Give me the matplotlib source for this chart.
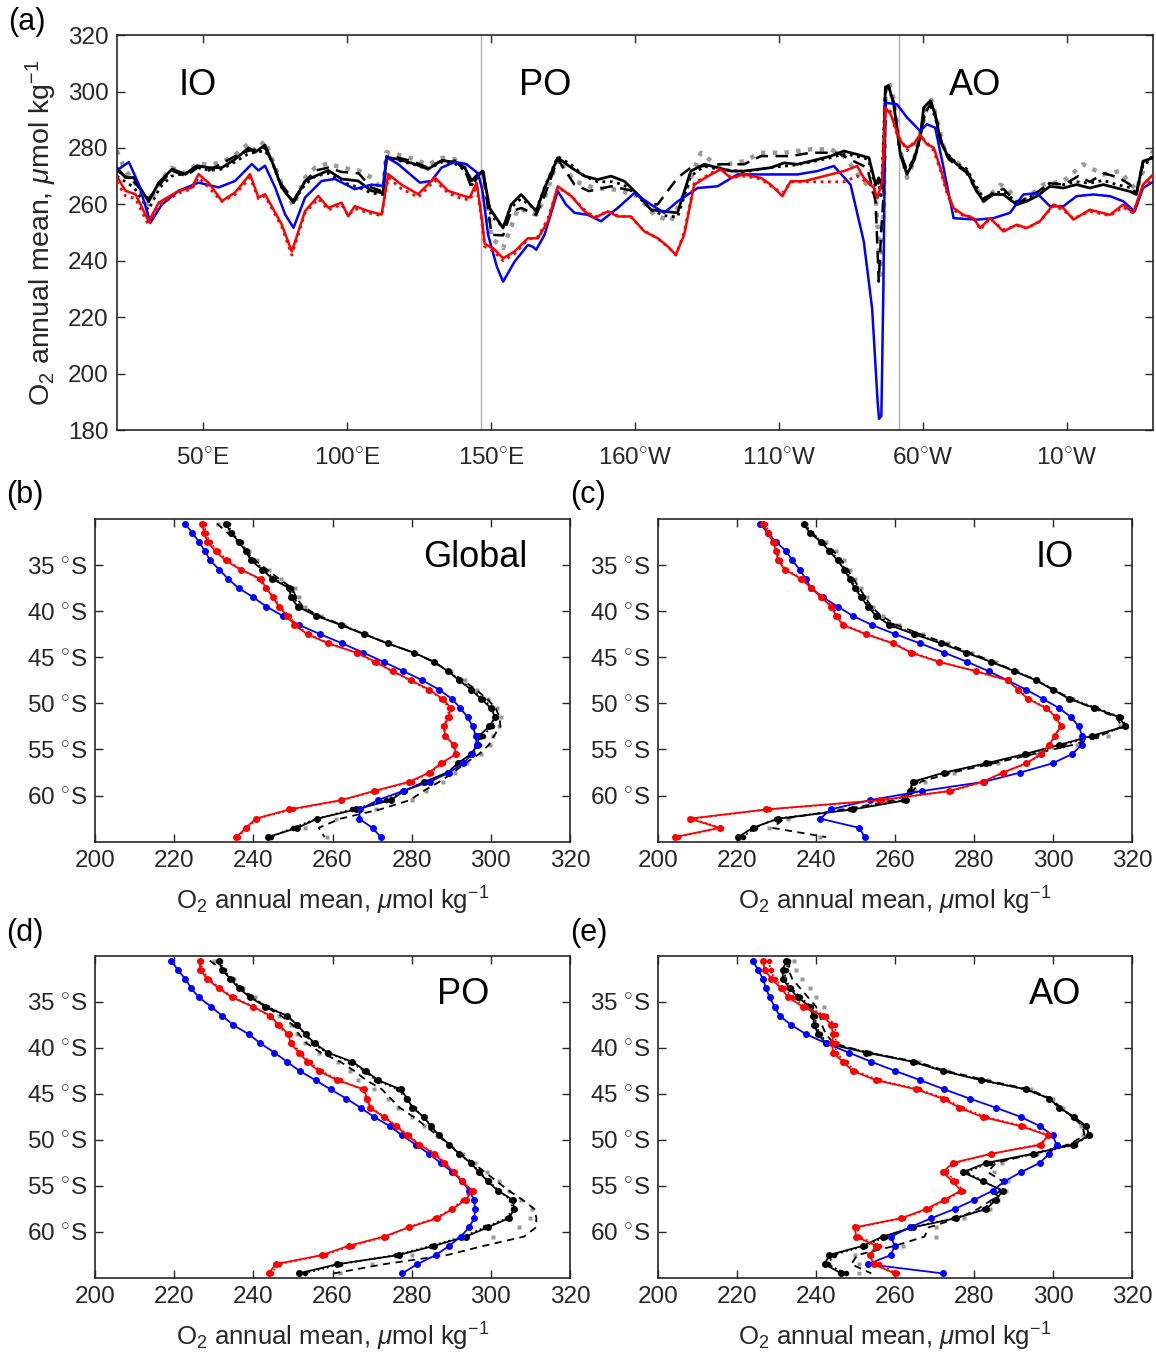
import matplotlib
matplotlib.use("Agg")
import matplotlib.pyplot as plt

plt.rcParams["font.family"] = ["Liberation Sans", "DejaVu Sans"]
plt.rcParams["mathtext.fontset"] = "custom"
plt.rcParams["mathtext.rm"] = "Liberation Sans"
plt.rcParams["mathtext.it"] = "Liberation Sans:italic"
plt.rcParams["mathtext.sf"] = "Liberation Sans"

INK = "#262626"
GRAY = "#999999"

# ---------------- panel (a): O2 along the section, by longitude (deg E, 20..380)
a_black_lon = [20, 23, 25.9, 31.1, 34.6, 39.2, 43.8, 47.8, 51.9, 56.5, 61.1, 65.8, 68.1, 71.5, 73.8, 77.3, 81.4, 85.4, 88.9, 93.5,
               98.1, 103.9, 108.5, 112.5, 113.7, 117.7, 123.5, 128.1, 132.8, 137.4, 140.9, 143.2, 145.5, 147.2, 149.5, 154.2,
               157, 160.5, 165.7, 168.6, 173.2, 177.9, 182.5, 187.1, 191.7, 196.3, 201, 205.6, 210.2, 214.8, 219.4, 224.1,
               228.7, 233.3, 237.9, 242.6, 247.2, 251.8, 256.4, 261, 268, 272.6, 277.2, 281.3, 283.6, 284.7, 286, 287, 288.1,
               289.9, 292.2, 294.5, 296.8, 299.1, 300.3, 302.6, 304.3, 306.1, 308.4, 311.8, 315.3, 318.8, 321.1, 324.5, 328,
               332.6, 336.1, 339.6, 344.2, 348.8, 353.4, 358, 362.7, 367.3, 371.9, 374.2, 376.5, 380]
a_black = [273, 269.5, 269.5, 261, 267.7, 272.5, 270.7, 273.7, 273, 273, 276, 280, 278.5, 281, 275.5, 266, 260.6, 268.3, 270, 272,
           269, 268.3, 264.8, 264, 276.7, 276, 274.3, 272.5, 275.5, 275, 273, 268.3, 270.7, 271.8, 258.7, 251.6,
           259.9, 263.5, 257.5, 265.8, 276.5, 273, 270, 268.8, 270, 268.2, 263.5, 258.1, 257.5, 257, 271.8, 274.2,
           273, 271.8, 271.8, 272.4, 273, 274.7, 274.2, 275.3, 277.1, 278.9, 277.7, 276.5, 267, 269.4, 266, 301.5, 302.1,
           295.5, 277.7, 270.6, 275.3, 283.7, 294.3, 296.7, 292, 282.5, 277.7, 274.2, 271.8, 264.6, 261.1, 263.5, 263.5,
           259.9, 261.1, 262.9, 266.4, 265.8, 267, 265.8, 267, 265.8, 264.6, 263.5, 275.3, 276.5]

a_dash_lon = [20, 23, 26, 31, 35, 39, 44, 48, 52, 56.5, 61, 65.8, 71.5, 74, 77.3, 81.4, 85.4, 89, 93.5, 98, 104, 108.5, 112.5,
              113.7, 118, 123.5, 128, 133, 137.4, 141, 143.2, 145.5, 147.2, 150.2, 154.2, 157, 160.5, 165.7, 168.6, 173.2,
              179, 184, 191.7, 199.8, 204.4, 207.9, 214.8, 219.4, 228.7, 237.9, 243.7, 254.1, 261, 270.3, 276, 280.7, 283.6,
              284.7, 285.5, 286.3, 287.3, 288.1, 290, 292, 294.5, 296.8, 299, 301, 303, 305, 307, 309, 312, 315, 319, 321,
              324.5, 328, 332.6, 336, 340, 344, 349, 354, 358, 363, 368, 372, 374.2, 376.5, 380]
a_dash = [272, 270, 268, 262, 267, 272, 270, 273, 272, 274.5, 277, 279, 280, 275, 267, 261.5, 268, 272, 273, 271.5, 271, 266, 264.5,
          277, 276.5, 275, 273, 275.5, 275.5, 272, 266, 270, 271.8, 249.2, 249, 257.5, 258.7, 256.3, 263, 276,
          267, 264.7, 266.4, 264.7, 260, 260, 269.4, 273, 274.2, 274.2, 277.1, 277.1, 278.3, 278.3, 275.3, 273, 261,
          232.6, 250, 262, 301.5, 302, 296, 279, 272, 276, 284, 293, 296, 289, 280, 276, 273.5, 271.5, 264, 262,
          264, 265.5, 260.5, 262, 264.5, 267.5, 267, 270, 268, 271, 269.5, 267, 264, 275, 277]

a_dot_lon = [20, 23, 26, 31, 35, 39, 44, 48, 52, 56.5, 61, 65.8, 71.5, 74, 77.3, 81.4, 85.4, 89, 93.5, 98, 104, 108.5, 112.5,
             113.7, 118, 123.5, 128, 133, 137.4, 141, 143.2, 145.5, 147.2, 150, 154.2, 157, 160.5, 165.7, 168.6, 173.2,
             177.9, 182.5, 187, 192, 196, 201, 205.6, 210.2, 214.8, 219.4, 224, 229, 238, 247, 256, 261, 268, 273, 277, 281,
             283.6, 284.7, 285.5, 287, 288.1, 290, 292.2, 294.5, 296.8, 299.1, 300.3, 302.6, 304.3, 306, 308.4, 311.8, 315.3,
             318.8, 321.1, 324.5, 328, 332.6, 336.1, 339.6, 344.2, 348.8, 353.4, 358, 362.7, 367.3, 371.9, 374.2, 376.5, 380]
a_dot = [270, 268, 266, 258, 266, 270, 271, 273.5, 272, 272.5, 275, 278, 279, 275, 266, 261, 267, 270, 271, 268, 266, 264, 263.5,
         276.5, 275.5, 274, 272.5, 275, 274.5, 272, 266.5, 270.5, 271.5, 256, 252, 259, 262, 258, 266, 277,
         274, 270, 268, 268, 267, 263, 258, 256, 255.5, 270, 273.5, 272.5, 271.5, 273, 274, 275, 276.5, 278, 277, 276,
         266, 268, 262, 300, 301.5, 295, 278, 271, 275, 283, 292, 295, 291, 283, 278, 274.5, 272.5,
         266, 262, 264, 264.5, 261, 262, 264, 267.5, 267, 268, 267.5, 268.5, 267, 266, 264, 274, 276]

a_gray_lon = [20, 23, 26, 31, 35, 39, 44, 48, 52, 56.5, 61, 65.8, 68, 71.5, 74, 77.3, 81.4, 85.4, 88.9, 93.5, 98, 104, 108.5,
              112.5, 113.7, 118, 123.5, 128, 133, 137.4, 141, 143.2, 145.5, 147.2, 150.2, 154.2, 157, 159.4, 165.7, 168.6,
              173.2, 179, 186, 194, 201, 206.7, 212.5, 217.1, 222.9, 228.7, 237.9, 243.7, 251.8, 261, 268, 272.6, 278.4,
              283.6, 285.3, 286.5, 287, 288.1, 290, 292, 294.5, 296.8, 299, 301.4, 303, 305, 307, 309, 311.5, 315, 319,
              321.1, 324.5, 327, 330, 333, 336, 341.8, 348.8, 355.7, 362.7, 368.4, 374.2, 377.7, 380]
a_gray = [279, 272, 268, 260, 268, 273, 271, 274.5, 274, 275, 277.5, 281.5, 279, 282.5, 276, 267, 259.5, 269.5, 273, 274.5, 273, 272,
          269.5, 265, 278.5, 277.5, 276, 274, 276.5, 276, 273, 268, 270, 271.8, 248, 244.4, 252, 258.7, 256.3, 262,
          276, 268.2, 265.8, 265.2, 262.9, 256.3, 254, 263.5, 278.3, 273.6, 275.3, 278.3, 278.3, 279.5, 279.5, 277.1, 269.4,
          263.5, 235, 260, 299, 303.8, 297, 280, 269.4, 275, 285, 294.3, 297, 290, 281, 277, 275.3, 272, 265,
          261.1, 264.5, 267, 265, 259.9, 262, 267, 268.2, 274.2, 270.6, 271.8, 265, 275.3, 278.9]

a_blue_lon = [20, 24.2, 27.7, 31.7, 35.7, 41.5, 48.4, 55.4, 61.1, 66.9, 69.2, 71.5, 75, 78.5, 81.4, 85.4, 91.2, 95.8, 102.7, 108.5,
              112.5, 113.7, 117.7, 125.3, 129.3, 132.8, 137.4, 141.4, 145.5, 147, 149, 152, 154.2, 158.2, 162.8, 164.5, 165.7,
              168.6, 173.2, 176, 179, 183.6, 188.2, 194, 199.8, 205.6, 210.2, 214.8, 221.8, 228.7, 235.6, 242.6, 249.5, 256.4,
              263.4, 269.1, 274.9, 279.5, 282.4, 284.3, 284.8, 285.6, 286.3, 287, 291, 294.5, 299.1, 301.4, 304.3, 307.2,
              310.7, 318.8, 324.5, 330.3, 334.9, 339.6, 344.2, 348.8, 353.4, 359.2, 365, 369.6, 373.6, 376.5, 380]
a_blue = [272, 275, 267, 253.5, 260, 264.8, 267.7, 266, 268.3, 274.3, 272, 273.7, 266, 256.4, 251.7, 262.4, 268.3, 269, 265.4, 267,
          266.5, 276.7, 274.3, 267.7, 268.3, 273, 275, 274.3, 271, 265, 249.2, 238, 232.6, 239.7, 245.6, 245, 243.9,
          249.2, 264.7, 260, 257, 256.3, 254, 258.7, 264, 259.9, 257, 261, 265.8, 266.4, 270.6, 270.6, 270.6, 270.6,
          271.8, 273.6, 267, 246.8, 223, 190, 184, 185, 230, 296, 295.5, 290.8, 286, 288.4, 287.2, 273,
          255.1, 254.6, 255.1, 257, 263.5, 264, 259.3, 259.3, 262.9, 263.5, 262.9, 261.1, 257.5, 265.8, 268]

a_red_lon = [20, 23, 26.5, 31.1, 34.6, 41.5, 46.1, 48.4, 51.9, 56.5, 61.1, 66.3, 69.2, 71.5, 77.3, 80.8, 85.4, 90, 93.5, 98.1,
             100.4, 102.7, 107.4, 112, 114.3, 118.9, 124.7, 130.5, 135.1, 138.6, 142.6, 145, 146.8, 147.8, 150.7, 154.2, 158.2,
             162.8, 166.3, 169.8, 173.2, 177.9, 182.5, 186, 190.6, 194, 198.6, 203.3, 207.9, 211.4, 214.2, 217.1, 220.6, 226.4,
             229.8, 233.3, 237.9, 243.7, 247.2, 251.2, 254.1, 258.7, 263.4, 268, 272.6, 277.2, 279.5, 283, 284.2, 285.9, 287,
             288.8, 290.5, 292.2, 294.5, 296.8, 299.1, 301.4, 303.8, 306.1, 308.4, 310.7, 314.1, 317.6, 319.9, 323.4, 328,
             332.6, 336.1, 340.7, 345.3, 348.8, 352.3, 358, 365, 369.6, 373.1, 376.5, 380]
a_red = [270, 264.8, 263.6, 254, 260.6, 264.8, 266, 270.7, 267.7, 261.2, 264.2, 270.7, 262.4, 263.6, 252.9, 243.3, 257.6, 263, 258.8,
         260.6, 255.8, 259.4, 257.6, 256.4, 270.7, 267, 263.6, 269.5, 264.8, 263.6, 262.4, 267.7, 255, 246, 244.5, 240.9,
         243.3, 248, 248, 254, 266.4, 262.9, 257.5, 255.2, 257.5, 255.7, 255.7, 250.4, 248, 245.1, 242.1, 249.2, 267, 270.6,
         272.4, 269.4, 270.6, 269.4, 267, 262.9, 268.2, 268.2, 269.4, 270.6, 271.8, 273.6, 269.4, 265.8, 262.2, 268.2, 294.3,
         292, 287.2, 282.5, 280.1, 281.3, 284.8, 281.3, 280.1, 273, 264.6, 258.7, 256.3, 255.1, 251.6, 255.1, 250.4,
         252.8, 251.6, 254, 259.9, 258.7, 254.6, 258.1, 256.3, 259.9, 257, 267, 270.6]
a_reddot = [268, 263, 262, 252.5, 259.5, 264, 265.5, 269.5, 266, 261, 263.5, 269.5, 262, 263, 252, 242, 257, 262, 258,
            260, 256, 258.5, 257, 256, 269.5, 265.5, 262.5, 268.5, 264, 262.5, 261.5, 266.5, 254, 245, 243.5, 240,
            242.5, 247.5, 248.5, 255, 266, 263, 258, 255.5, 257.5, 256, 255.5, 250.5, 248, 245, 242, 250, 267.5, 271,
            273, 269.5, 270, 269, 266.5, 264, 268, 268, 268, 268, 268, 270, 268.5, 266, 263, 267, 292,
            293, 286, 283, 279, 282, 284, 282, 279, 272, 264, 258, 256, 255.5, 251, 255, 251,
            252.5, 251.5, 254, 259.5, 258, 255, 257.5, 256, 259, 257, 266, 269]

a_xticks = [50, 100, 150, 200, 250, 300, 350]
a_xticklabels = ["50$^{\\circ}$E", "100$^{\\circ}$E", "150$^{\\circ}$E", "160$^{\\circ}$W",
                 "110$^{\\circ}$W", "60$^{\\circ}$W", "10$^{\\circ}$W"]
a_dividers = [146.5, 291.7]
a_regions = [("IO", 41.5), ("PO", 159.7), ("AO", 309.0)]

# ---------------- panels (b)-(e): zonal mean profiles, latitude in deg S
lat_s = [30.5, 31.5, 32.5, 33.5, 34.5, 35.5, 36.5, 37.5, 38.5, 39.5, 40.5, 41.5, 42.5, 43.5, 44.5, 45.5, 46.5, 47.5,
         48.5, 49.5, 50.5, 51.5, 52.5, 53.5, 54.5, 55.5, 56.5, 57.5, 58.5, 59.5, 60.5, 61.5, 62.5, 63.5, 64.5]

glob_black = [233.1, 234.3, 236.4, 238.1, 239.4, 242.3, 244.8, 249.1, 249.5, 251.2, 255.8, 262.1, 268.0, 273.9, 280.6, 285.7,
              289.1, 292.0, 295.0, 297.5, 300.0, 301.1, 299.6, 297.1, 296.6, 295.0, 291.6, 289.1, 283.2, 278.1, 274.7, 265.9,
              256.2, 251.1, 243.6]
glob_dot = [233.5, 234.5, 236.8, 238.4, 240.0, 242.8, 245.3, 249.6, 250.2, 251.8, 256.2, 262.4, 268.2, 274.1, 280.5, 285.6,
            289.2, 292.3, 295.3, 298.0, 300.4, 301.3, 300.3, 298.0, 297.0, 295.3, 292.0, 289.0, 283.5, 278.0, 273.5, 265.0,
            256.0, 250.0, 244.5]
glob_dash = [230.8, 233.5, 236.0, 238.5, 240.5, 243.5, 246.5, 249.8, 250.8, 252.5, 256.5, 262.5, 268.0, 274.0, 280.5, 285.5,
             289.5, 293.0, 296.2, 299.0, 301.2, 302.2, 302.4, 300.8, 299.5, 297.0, 293.5, 290.5, 287.0, 283.0, 279.5, 272.0,
             262.0, 256.5, 258.0]
glob_gray = [231.0, 234.0, 236.5, 239.0, 241.0, 244.0, 247.0, 250.5, 251.5, 253.0, 257.0, 263.0, 268.5, 274.5, 280.8, 286.0,
             290.0, 293.5, 296.5, 299.3, 301.5, 302.5, 302.0, 300.5, 299.8, 297.5, 294.0, 291.0, 288.0, 283.5, 280.0, 271.0,
             261.0, 253.0, 258.5]
glob_blue = [222.7, 224.6, 226.3, 227.8, 229.1, 231.4, 233.6, 236.3, 240.0, 243.3, 247.4, 251.6, 256.9, 262.5, 267.8, 272.9,
             277.9, 282.7, 286.9, 290.1, 292.3, 294.1, 295.4, 296.2, 296.4, 295.2, 293.0, 289.5, 284.5, 277.8, 271.4, 267.0,
             266.7, 270.1, 272.2]
glob_red = [227.0, 227.6, 228.4, 230.5, 233.0, 236.8, 241.9, 243.2, 245.0, 246.4, 248.6, 250.3, 253.7, 258.9, 266.1, 270.9,
            275.2, 279.8, 284.4, 287.8, 289.9, 289.3, 288.2, 288.4, 290.7, 291.2, 287.4, 284.4, 279.4, 270.5, 262.1, 249.1,
            240.6, 238.1, 235.7]
glob_reddot = [227.5, 228.0, 229.0, 231.0, 233.5, 237.0, 241.5, 243.0, 245.2, 246.8, 249.0, 250.8, 254.0, 259.2, 266.0, 270.5,
               275.0, 279.5, 284.0, 287.5, 289.5, 289.0, 288.0, 288.5, 290.5, 291.0, 287.8, 284.8, 280.0, 271.0, 262.5, 250.0,
               241.0, 238.5, 236.0]

io_black = [236.9, 238.4, 241.3, 243.4, 245.5, 247.2, 248.5, 249.8, 251.5, 253.1, 255.2, 258.6, 264.9, 271.7, 278.0, 284.3,
            290.2, 295.7, 299.9, 304.1, 310.5, 316.8, 318.3, 310.0, 301.6, 292.8, 283.1, 272.5, 264.5, 263.7, 262.8, 249.3,
            230.4, 224.0, 220.3]
io_dot = [237.2, 238.8, 241.5, 243.8, 245.8, 247.5, 248.8, 250.2, 252.0, 253.6, 255.8, 259.2, 265.3, 272.0, 278.3, 284.5,
          290.5, 296.0, 300.2, 304.6, 311.0, 317.2, 318.6, 311.0, 302.5, 293.5, 283.8, 273.0, 265.0, 264.0, 262.0, 248.5,
          230.0, 224.5, 221.5]
io_dash = [236.5, 238.8, 242.0, 244.5, 246.5, 248.0, 249.5, 251.0, 252.5, 254.0, 256.5, 260.5, 266.5, 273.0, 279.0, 285.0,
           290.5, 295.8, 300.0, 304.5, 310.0, 316.0, 317.5, 312.0, 305.0, 295.0, 285.0, 274.5, 266.5, 264.5, 260.0, 247.0,
           232.0, 229.0, 242.6]
io_gray = [237.5, 239.0, 242.5, 245.0, 247.0, 248.5, 250.0, 251.5, 253.0, 254.5, 257.0, 261.0, 267.0, 273.5, 279.5, 285.5,
           291.0, 296.0, 300.5, 305.0, 310.5, 316.5, 317.0, 314.0, 306.0, 296.0, 286.0, 275.0, 267.5, 265.0, 258.0, 246.0,
           233.0, 228.0, 241.0]
io_blue = [225.7, 227.8, 229.9, 232.5, 234.0, 235.9, 237.4, 238.8, 241.8, 245.5, 249.3, 254.2, 260.1, 266.4, 272.5, 278.3,
           283.7, 288.5, 293.2, 297.4, 301.5, 304.6, 306.5, 307.4, 307.3, 304.8, 299.9, 291.7, 282.6, 266.9, 253.6, 243.7,
           241.1, 251.0, 252.3]
io_red = [226.6, 227.8, 229.1, 229.9, 230.4, 232.1, 236.3, 238.8, 241.3, 243.9, 245.1, 246.8, 252.7, 259.5, 264.1, 271.1,
          280.4, 288.5, 291.1, 293.6, 298.2, 300.8, 302.0, 300.4, 299.1, 297.0, 293.2, 287.3, 282.2, 273.8, 256.1, 227.4,
          208.0, 215.6, 204.2]
io_reddot = [227.0, 228.2, 229.5, 230.2, 230.8, 232.5, 236.6, 239.0, 241.5, 244.2, 245.5, 247.2, 253.0, 259.8, 264.5, 271.5,
             280.6, 288.6, 291.3, 293.8, 298.5, 301.0, 302.2, 300.6, 299.2, 297.2, 293.5, 287.6, 282.5, 274.2, 256.8, 228.0,
             208.6, 216.0, 205.0]

po_black = [231.2, 232.1, 234.2, 236.3, 239.2, 243.0, 248.5, 251.1, 253.2, 255.5, 258.8, 265.0, 268.4, 271.5, 277.2, 278.9,
            280.2, 283.1, 284.8, 286.9, 289.5, 292.0, 294.9, 297.0, 299.2, 301.7, 305.5, 305.9, 304.6, 299.2, 293.7, 285.7,
            276.8, 261.2, 251.5]
po_dot = [231.5, 232.5, 234.5, 236.8, 239.5, 243.5, 248.5, 251.0, 253.0, 255.0, 258.5, 264.5, 268.0, 271.0, 276.5, 278.5,
          280.5, 283.0, 285.0, 287.0, 289.5, 292.0, 295.0, 297.2, 299.5, 302.0, 305.0, 305.5, 304.0, 298.5, 293.0, 285.0,
          276.0, 262.0, 253.0]
po_dash = [229.0, 232.0, 234.5, 237.0, 240.0, 243.0, 247.0, 250.0, 251.5, 253.5, 257.0, 262.0, 265.5, 268.5, 272.5, 274.7,
           277.0, 280.5, 283.5, 286.5, 289.5, 292.5, 295.5, 298.5, 301.5, 304.5, 308.0, 311.0, 311.5, 311.4, 308.4, 298.3,
           289.0, 273.0, 260.3]
po_gray = [230.0, 232.5, 235.0, 237.5, 240.5, 243.5, 246.5, 249.5, 251.0, 253.0, 256.5, 261.5, 264.5, 266.5, 270.5, 274.0,
           276.5, 280.0, 283.0, 286.5, 289.5, 293.0, 296.0, 299.0, 302.0, 304.5, 307.5, 310.5, 310.0, 307.0, 300.5, 289.5,
           280.0, 270.0, 262.0]
po_blue = [219.2, 220.9, 222.8, 224.3, 226.2, 229.3, 232.1, 234.9, 238.8, 241.8, 245.3, 248.5, 251.7, 255.7, 259.5, 263.5,
           267.1, 270.5, 274.5, 277.6, 281.0, 284.4, 287.3, 290.3, 292.8, 294.5, 295.8, 296.0, 295.8, 294.5, 292.4, 289.5,
           286.1, 281.4, 277.6]
po_red = [226.4, 226.6, 228.3, 231.2, 234.6, 239.8, 244.3, 246.4, 248.9, 249.4, 251.5, 253.6, 256.5, 261.2, 267.9, 268.8,
          269.5, 273.0, 276.0, 278.9, 281.9, 285.7, 288.2, 290.7, 292.6, 295.4, 293.7, 290.3, 286.5, 279.3, 273.0, 264.1,
          257.4, 245.6, 243.9]
po_reddot = [226.8, 227.0, 228.8, 231.5, 235.0, 240.0, 244.0, 246.0, 248.5, 249.8, 252.0, 254.2, 257.0, 261.8, 267.5, 268.5,
             269.8, 273.2, 276.3, 279.2, 282.2, 286.0, 288.5, 290.8, 293.0, 295.0, 293.0, 290.0, 286.0, 279.0, 273.5, 265.0,
             258.0, 246.5, 244.5]

ao_black = [232.5, 231.6, 231.6, 233.3, 235.4, 238.4, 239.2, 239.6, 240.5, 242.5, 252.7, 264.5, 272.1, 281.8, 293.2, 299.1,
            301.6, 305.4, 308.4, 309.2, 305.0, 294.9, 283.1, 277.2, 282.2, 287.3, 285.6, 283.1, 275.5, 264.5, 256.9, 251.9,
            243.4, 242.2, 246.4]
ao_dot = [233.0, 232.5, 232.0, 233.8, 236.0, 238.8, 239.8, 240.0, 241.0, 243.0, 253.5, 265.0, 272.5, 282.0, 293.0, 299.0,
          301.5, 305.0, 308.0, 309.5, 305.5, 295.5, 284.0, 278.0, 282.5, 287.0, 285.0, 282.5, 275.0, 264.0, 257.5, 252.5,
          244.5, 243.0, 247.5]
ao_dash = [233.5, 233.0, 234.0, 236.0, 238.0, 240.0, 241.0, 241.5, 242.5, 244.5, 253.0, 265.5, 273.0, 283.0, 294.0, 299.5,
           302.0, 305.0, 307.5, 308.0, 304.0, 295.0, 285.5, 283.5, 287.3, 286.5, 284.5, 281.0, 276.0, 268.5, 267.5, 260.0,
           250.5, 248.9, 254.0]
ao_gray = [234.5, 235.0, 236.5, 238.5, 240.0, 242.0, 242.5, 243.5, 244.0, 245.5, 254.0, 266.0, 273.5, 283.5, 294.5, 300.0,
           302.5, 305.5, 307.0, 307.5, 303.5, 296.0, 287.0, 285.0, 288.5, 288.0, 286.0, 284.0, 277.5, 270.5, 270.5, 262.0,
           250.0, 251.0, 251.0]
ao_blue = [224.0, 225.3, 226.6, 227.3, 228.3, 229.5, 230.8, 233.7, 237.5, 242.6, 248.3, 254.0, 260.1, 266.4, 272.5, 278.9,
           285.6, 291.9, 296.7, 299.9, 300.9, 299.1, 296.6, 291.9, 287.7, 284.8, 280.1, 275.1, 269.2, 263.8, 259.0, 259.9,
           259.0, 253.1, 272.1]
ao_red = [226.6, 227.0, 228.7, 231.2, 232.9, 236.7, 241.8, 243.9, 244.3, 244.1, 244.3, 246.8, 249.3, 255.2, 265.4, 272.1,
          276.3, 282.2, 291.9, 298.7, 297.0, 284.3, 274.6, 272.1, 274.6, 276.7, 272.5, 267.9, 261.6, 249.8, 250.2, 255.2,
          253.6, 254.6, 259.9]
ao_reddot = [228.0, 228.5, 229.5, 232.0, 234.0, 237.5, 242.5, 244.8, 245.0, 245.0, 245.0, 247.5, 250.0, 256.0, 266.0, 272.8,
             277.0, 283.0, 292.5, 299.0, 296.5, 284.5, 275.2, 273.0, 275.5, 277.2, 273.0, 268.5, 262.0, 250.5, 251.0, 256.0,
             254.0, 256.0, 260.5]

prof_yticks = [35, 40, 45, 50, 55, 60]
prof_xticks = [200, 220, 240, 260, 280, 300, 320]

XLABEL = "O$_2$ annual mean, $\\mu$mol kg$^{-1}$"


def style_axes(ax):
    for sp in ax.spines.values():
        sp.set_color(INK)
        sp.set_linewidth(1.2)
    ax.tick_params(direction="in", length=6, width=1, top=True, right=True,
                   colors=INK, labelcolor=INK, labelsize=17.5, pad=6)


def draw_profile(ax, series, name, name_x):
    black, dot, dash, gray, blue, red, reddot = series
    y = [-v for v in lat_s]
    ax.plot(gray, y, ls="none", marker="s", ms=3.5, mec="none", color=GRAY, zorder=2)
    ax.plot(dash, y, ls="--", dashes=(4, 3), color="k", lw=1.3, zorder=3)
    ax.plot(dot, y, ls=":", color="k", lw=1.3, marker=".", ms=6, zorder=3)
    ax.plot(black, y, ls="-", color="k", lw=1.3, marker=".", ms=8, zorder=4)
    ax.plot(blue, y, ls="-", color="b", lw=1.3, marker=".", ms=8, zorder=5)
    ax.plot(reddot, y, ls=":", color="r", lw=1.3, marker=".", ms=6, zorder=5)
    ax.plot(red, y, ls="-", color="r", lw=1.3, marker=".", ms=8, zorder=6)
    ax.set_xlim(200, 320)
    ax.set_ylim(-65, -30)
    ax.set_xticks(prof_xticks)
    ax.set_yticks([-v for v in prof_yticks])
    ax.set_yticklabels(["%d $^{\\circ}$S" % v for v in prof_yticks])
    ax.set_xlabel(XLABEL, fontsize=18.5, color=INK, labelpad=9)
    ax.text(name_x, -34.2, name, fontsize=26, ha="left", va="center", color="k")
    style_axes(ax)


def main() -> None:
    fig = plt.figure(figsize=(11.56, 13.60), dpi=100)

    ax = fig.add_axes([0.1010, 0.6838, 0.8965, 0.2904])
    ax.plot(a_gray_lon, a_gray, ls=":", color=GRAY, lw=3.2, zorder=2)
    ax.plot(a_dash_lon, a_dash, ls="--", dashes=(5, 3), color="k", lw=1.8, zorder=3)
    ax.plot(a_dot_lon, a_dot, ls=":", color="k", lw=2.0, zorder=3)
    ax.plot(a_black_lon, a_black, ls="-", color="k", lw=2.0, zorder=4)
    ax.plot(a_blue_lon, a_blue, ls="-", color="b", lw=1.8, zorder=5)
    ax.plot(a_red_lon, a_reddot, ls=":", color="r", lw=2.0, zorder=5)
    ax.plot(a_red_lon, a_red, ls="-", color="r", lw=1.8, zorder=6)
    for lon in a_dividers:
        ax.axvline(lon, color="#b0b0b0", lw=1.0, zorder=1)
    for name, lon in a_regions:
        ax.text(lon, 302.0, name, fontsize=26, ha="left", va="center", color="k")
    ax.set_xlim(20, 380)
    ax.set_ylim(180, 320)
    ax.set_xticks(a_xticks)
    ax.set_xticklabels(a_xticklabels)
    ax.set_yticks(range(180, 321, 20))
    ax.set_ylabel(XLABEL, fontsize=20.5, color=INK, labelpad=6)
    style_axes(ax)
    ax.tick_params(axis="x", pad=12)

    axb = fig.add_axes([0.0822, 0.3811, 0.4109, 0.2373])
    draw_profile(axb, (glob_black, glob_dot, glob_dash, glob_gray, glob_blue, glob_red, glob_reddot), "Global", 283)
    axc = fig.add_axes([0.5692, 0.3811, 0.4100, 0.2373])
    draw_profile(axc, (io_black, io_dot, io_dash, io_gray, io_blue, io_red, io_reddot), "IO", 295.5)
    axd = fig.add_axes([0.0822, 0.0603, 0.4109, 0.2368])
    draw_profile(axd, (po_black, po_dot, po_dash, po_gray, po_blue, po_red, po_reddot), "PO", 286.5)
    axe = fig.add_axes([0.5692, 0.0603, 0.4100, 0.2368])
    draw_profile(axe, (ao_black, ao_dot, ao_dash, ao_gray, ao_blue, ao_red, ao_reddot), "AO", 294)

    for label, px, py in [("(a)", 8, 22), ("(b)", 6, 495), ("(c)", 570, 495), ("(d)", 6, 933), ("(e)", 570, 933)]:
        fig.text(px / 1156, 1 - py / 1360, label, fontsize=22, ha="left", va="center", color="k")

    fig.savefig("out.png", dpi=100)
    plt.close(fig)


if __name__ == "__main__":
    main()
